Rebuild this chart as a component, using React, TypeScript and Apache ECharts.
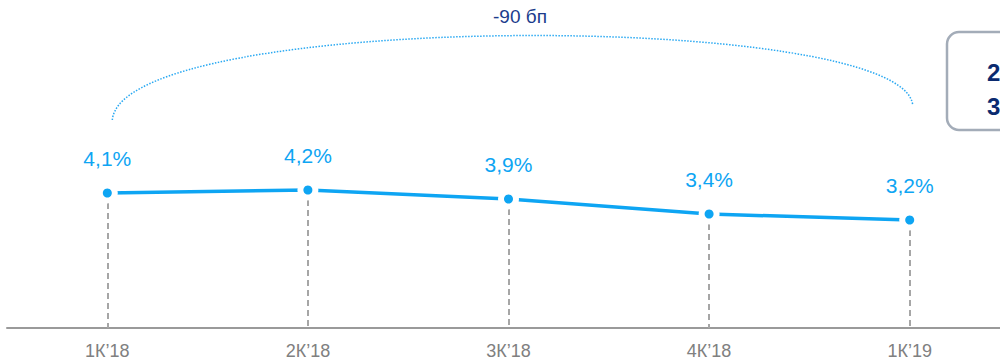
import React, { useEffect, useRef } from "react";
import * as echarts from "echarts";

const categories = ["1К’18", "2К’18", "3К’18", "4К’18", "1К’19"];
const values = [4.1, 4.2, 3.9, 3.4, 3.2];
const valueLabels = ["4,1%", "4,2%", "3,9%", "3,4%", "3,2%"];
const changeLabel = "-90 бп";
const boxLines = ["2", "3"];

const BLUE = "#0ea5f3";
const NAVY = "#1c3c8c";
const Y_MIN = -0.4;
const Y_MAX = 9.6;

export default function App() {
  const ref = useRef<HTMLDivElement>(null);
  useEffect(() => {
    const chart = echarts.init(ref.current!, null, { renderer: "svg" });
    const option: any = {
      animation: false,
      grid: {
        left: 7,
        right: -10,
        top: 28,
        bottom: 36,
        containLabel: false,
        outerBoundsMode: "none",
      },
      xAxis: {
        type: "category",
        data: categories,
        boundaryGap: true,
        axisLine: {
          show: true,
          onZero: false,
          lineStyle: { color: "#9a9a9a", width: 2 },
        },
        axisTick: { show: false },
        axisLabel: {
          color: "#808080",
          fontSize: 18,
          fontFamily: "Liberation Sans",
          margin: 14,
        },
        splitLine: { show: false },
      },
      yAxis: {
        type: "value",
        min: Y_MIN,
        max: Y_MAX,
        show: false,
        splitLine: { show: false },
      },
      series: [
        {
          type: "line",
          data: values,
          z: 1,
          zlevel: 0,
          lineStyle: { color: BLUE, width: 3.5 },
          symbol: "none",
        },
        {
          type: "scatter",
          data: values,
          z: 3,
          zlevel: 1,
          symbol: "circle",
          symbolSize: 21,
          itemStyle: { color: "#ffffff", opacity: 1 },
        },
        {
          type: "scatter",
          data: values,
          z: 5,
          zlevel: 2,
          symbol: "circle",
          symbolSize: 9,
          itemStyle: { color: BLUE, opacity: 1 },
          label: {
            show: true,
            position: "top",
            distance: 20,
            color: BLUE,
            fontSize: 21,
            fontFamily: "Liberation Sans",
            formatter: (p: any) => valueLabels[p.dataIndex],
          },
          markLine: {
            silent: true,
            symbol: "none",
            z: 1,
            label: { show: false },
            lineStyle: { color: "#a6a6a6", width: 2, type: [6, 4] },
            data: values.map((v, i) => [
              { coord: [i, v] },
              { coord: [i, Y_MIN] },
            ]),
          },
        },
      ],
    };
    chart.setOption(option);

    const p0 = chart.convertToPixel({ gridIndex: 0 }, [0, values[0]]) as number[];
    const p4 = chart.convertToPixel({ gridIndex: 0 }, [4, values[4]]) as number[];
    const x1 = p0[0] + 5;
    const y1 = 120;
    const x2 = p4[0] + 3;
    const y2 = 105;

    chart.setOption({
      graphic: [
        {
          type: "bezierCurve",
          shape: {
            x1,
            y1,
            x2,
            y2,
            cpx1: x1 + 10,
            cpy1: 10,
            cpx2: x2 - 10,
            cpy2: 10,
          },
          style: {
            stroke: "#2aa9f2",
            lineWidth: 1.5,
            fill: null,
            lineDash: [1.5, 1.5],
          },
        },
        {
          type: "text",
          x: 520,
          y: 16,
          style: {
            text: changeLabel,
            fill: NAVY,
            fontSize: 19,
            fontFamily: "Liberation Sans",
            align: "center",
            verticalAlign: "middle",
          },
        },
        {
          type: "rect",
          shape: { x: 947, y: 32, width: 80, height: 98, r: 12 },
          style: { fill: "#ffffff", stroke: "#a3acb8", lineWidth: 2.5 },
        },
        {
          type: "text",
          x: 987,
          y: 72,
          style: {
            text: boxLines[0],
            fill: "#0b2a6f",
            fontSize: 24,
            fontWeight: "bold",
            fontFamily: "Liberation Sans",
            verticalAlign: "middle",
          },
        },
        {
          type: "text",
          x: 987,
          y: 106,
          style: {
            text: boxLines[1],
            fill: "#0b2a6f",
            fontSize: 24,
            fontWeight: "bold",
            fontFamily: "Liberation Sans",
            verticalAlign: "middle",
          },
        },
      ],
    });

    return () => chart.dispose();
  }, []);
  return (
    <div
      ref={ref}
      style={{ position: "absolute", left: 0, top: 0, width: 1000, height: 364 }}
    />
  );
}
